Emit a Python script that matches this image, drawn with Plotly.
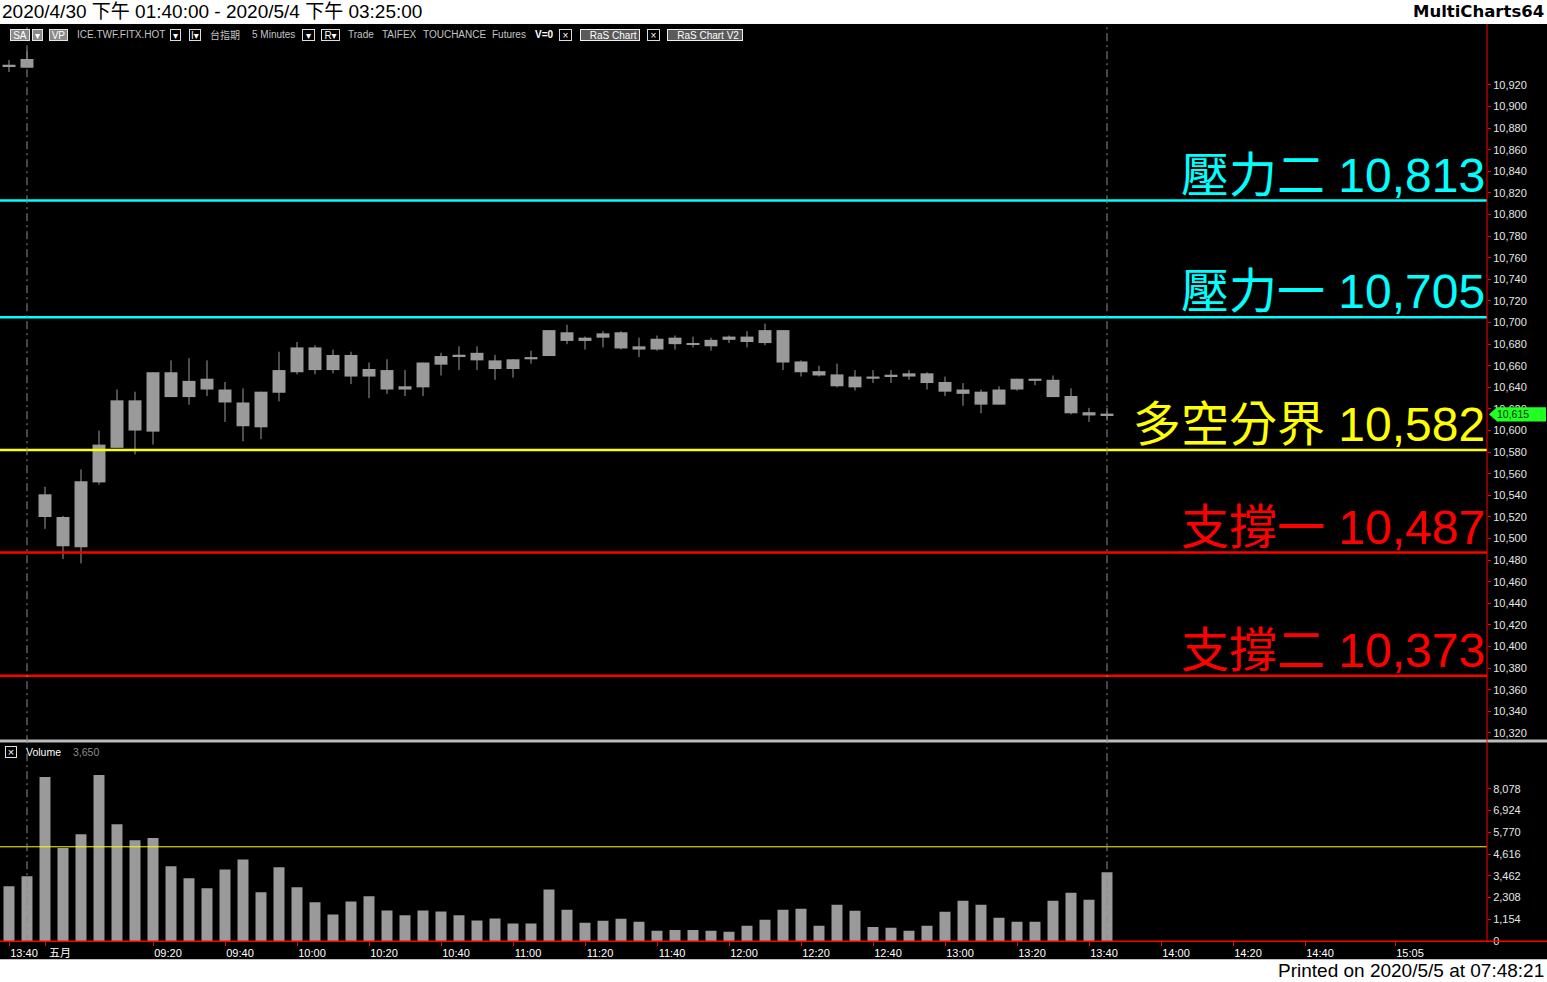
import plotly.graph_objects as go

W = 1547          # page width in px
FIG_H = 982       # figure height in px
S_Y = 0.9947      # vertical compression observed in the photographed page

# ---------------- data ----------------
header_text = "2020/4/30 下午 01:40:00 - 2020/5/4 下午 03:25:00"
brand_text = "MultiCharts64"
footer_text = "Printed on 2020/5/5 at 07:48:21"

bar_time = ["13:40", "13:45",
            "08:50", "08:55", "09:00", "09:05", "09:10", "09:15", "09:20", "09:25",
            "09:30", "09:35", "09:40", "09:45", "09:50", "09:55", "10:00", "10:05",
            "10:10", "10:15", "10:20", "10:25", "10:30", "10:35", "10:40", "10:45",
            "10:50", "10:55", "11:00", "11:05", "11:10", "11:15", "11:20", "11:25",
            "11:30", "11:35", "11:40", "11:45", "11:50", "11:55", "12:00", "12:05",
            "12:10", "12:15", "12:20", "12:25", "12:30", "12:35", "12:40", "12:45",
            "12:50", "12:55", "13:00", "13:05", "13:10", "13:15", "13:20", "13:25",
            "13:30", "13:35", "13:40", "13:45"]

opens = [10938, 10936,
         10541, 10520, 10492, 10552, 10584, 10628, 10599, 10654, 10631, 10648,
         10638, 10626, 10603, 10635, 10654, 10677, 10656, 10670, 10650, 10656,
         10638, 10640, 10661, 10669, 10672, 10665, 10657, 10666, 10669, 10691,
         10683, 10686, 10691, 10678, 10675, 10686, 10680, 10678, 10684, 10687,
         10681, 10693, 10664, 10655, 10652, 10640, 10650, 10651, 10650, 10653,
         10645, 10634, 10636, 10624, 10638, 10648, 10647, 10632, 10617, 10615]
highs = [10943, 10955,
         10548, 10521, 10564, 10600, 10638, 10636, 10654, 10665, 10667, 10665,
         10645, 10639, 10636, 10673, 10682, 10679, 10675, 10673, 10663, 10666,
         10656, 10663, 10672, 10678, 10678, 10670, 10666, 10674, 10693, 10698,
         10687, 10692, 10692, 10686, 10688, 10688, 10687, 10686, 10688, 10692,
         10699, 10693, 10665, 10660, 10662, 10656, 10656, 10656, 10656, 10654,
         10650, 10644, 10638, 10641, 10648, 10648, 10651, 10639, 10621, 10621]
lows = [10932, 10936,
        10509, 10481, 10477, 10550, 10584, 10578, 10587, 10631, 10624, 10632,
        10608, 10590, 10592, 10627, 10652, 10652, 10653, 10643, 10630, 10634,
        10632, 10632, 10651, 10656, 10656, 10647, 10649, 10662, 10669, 10680,
        10675, 10677, 10675, 10668, 10674, 10675, 10677, 10674, 10681, 10677,
        10679, 10656, 10650, 10650, 10640, 10637, 10644, 10644, 10647, 10638,
        10632, 10623, 10616, 10624, 10637, 10642, 10631, 10615, 10608, 10609]
closes = [10938, 10944,
          10520, 10493, 10553, 10587, 10628, 10600, 10654, 10631, 10646, 10638,
          10626, 10604, 10636, 10656, 10677, 10656, 10670, 10650, 10657, 10638,
          10641, 10663, 10669, 10670, 10665, 10657, 10666, 10668, 10693, 10683,
          10686, 10690, 10676, 10675, 10685, 10680, 10680, 10684, 10687, 10682,
          10693, 10663, 10654, 10651, 10641, 10650, 10648, 10651, 10653, 10644,
          10636, 10638, 10624, 10638, 10648, 10646, 10631, 10616, 10614, 10615]
volumes = [2910, 3440,
           8690, 4930, 5660, 8800, 6190, 5340, 5460, 3970, 3340, 2800,
           3800, 4330, 2590, 3920, 2860, 2060, 1420, 2110, 2380, 1630,
           1370, 1630, 1580, 1370, 1100, 1210, 940, 940, 2740, 1670,
           980, 1080, 1190, 1030, 550, 600, 600, 550, 500, 820,
           1140, 1670, 1720, 820, 1930, 1610, 760, 710, 550, 820,
           1560, 2150, 1930, 1240, 1030, 1030, 2150, 2570, 2200, 3650]

tick_pos = [0, 2, 8, 12, 16, 20, 24, 28, 32, 36, 40, 44, 48, 52, 56, 60, 64, 68, 72, 77]
tick_text = ["13:40", "五月", "09:20", "09:40", "10:00", "10:20", "10:40", "11:00",
             "11:20", "11:40", "12:00", "12:20", "12:40", "13:00", "13:20", "13:40",
             "14:00", "14:20", "14:40", "15:05"]

price_ticks = [10320, 10340, 10360, 10380, 10400, 10420, 10440, 10460, 10480, 10500,
               10520, 10540, 10560, 10580, 10600, 10620, 10640, 10660, 10680, 10700,
               10720, 10740, 10760, 10780, 10800, 10820, 10840, 10860, 10880, 10900, 10920]
vol_ticks = [0, 1154, 2308, 3462, 4616, 5770, 6924, 8078]

level_names = ["壓力二", "壓力一", "多空分界", "支撐一", "支撐二"]
level_values = [10813, 10705, 10582, 10487, 10373]
level_colors = ["#00FFFF", "#00FFFF", "#FFFF00", "#FF0000", "#FF0000"]

vol_ref = 5000

toolbar_text = ["SA", "▾", "VP", "ICE.TWF.FITX.HOT", "▾", "I▾", "台指期", "5 Minutes",
                "▾", "R▾", "Trade", "TAIFEX", "TOUCHANCE", "Futures", "V=0", "×",
                "_RaS Chart", "×", "_RaS Chart V2"]

# ---------------- layout helpers (pixel placement) ----------------
toolbar_left = [10, 32, 49, 75, 170, 189, 208, 250, 302, 321, 346, 380, 421, 490, 533,
                559, 580, 647, 667]
toolbar_right = [30, 43, 68, None, 181, 201, None, None, 315, 340, None, None, None, None,
                 None, 572, 640, 660, 743]
toolbar_kind = ["btn", "btn", "btn", "txt", "dd", "dd", "txt", "txt", "dd", "dd", "txt",
                "txt", "txt", "txt", "bold", "dd", "ras", "dd", "ras"]


def px(x):
    return x / W


def py(y):
    return 1 - (y / S_Y) / FIG_H


PLOT_R = 1487
X_RANGE = [-0.5, (PLOT_R - 9) / 18.0]
P_RANGE = [10314.07, 10976.43]
V_RANGE = [0, 10580]
GRAY = "#9a9a9a"
FONT = "Liberation Sans, Arial, Noto Sans CJK TC, DejaVu Sans"

n = len(opens)
idx = list(range(n))

body_base, body_h = [], []
for o, c in zip(opens, closes):
    lo, hi = min(o, c), max(o, c)
    if hi - lo < 1.4:
        mid = (o + c) / 2.0
        lo, hi = mid - 0.7, mid + 0.7
    body_base.append(lo)
    body_h.append(hi - lo)

wick_x, wick_y = [], []
for i, (hh, ll) in enumerate(zip(highs, lows)):
    wick_x += [i, i, None]
    wick_y += [ll, hh, None]

fig = go.Figure()
fig.add_trace(go.Scatter(x=wick_x, y=wick_y, mode="lines",
                         line=dict(color=GRAY, width=1),
                         xaxis="x", yaxis="y", hoverinfo="skip", showlegend=False))
fig.add_trace(go.Bar(x=idx, y=body_h, base=body_base, width=0.72,
                     marker=dict(color=GRAY, line=dict(width=0)),
                     xaxis="x", yaxis="y", hoverinfo="skip", showlegend=False))
fig.add_trace(go.Bar(x=idx, y=volumes, width=0.61,
                     marker=dict(color=GRAY, line=dict(width=0)),
                     xaxis="x2", yaxis="y2", hoverinfo="skip", showlegend=False))

shapes = []
shapes.append(dict(type="rect", xref="paper", yref="paper", x0=0, x1=1,
                   y0=py(960), y1=py(24), fillcolor="black", line=dict(width=0),
                   layer="below"))
shapes.append(dict(type="rect", xref="paper", yref="paper", x0=0, x1=1,
                   y0=py(743), y1=py(740), fillcolor="#bcbcbc", line=dict(width=0),
                   layer="above"))
for v, col in zip(level_values, level_colors):
    shapes.append(dict(type="line", xref="paper", yref="y", x0=0, x1=px(PLOT_R),
                       y0=v, y1=v, line=dict(color=col, width=2.5), layer="above"))
shapes.append(dict(type="line", xref="paper", yref="y2", x0=0, x1=px(PLOT_R),
                   y0=vol_ref, y1=vol_ref, line=dict(color="#FFFF00", width=1),
                   layer="above"))
for i, t in enumerate(bar_time):
    if t == "13:45":
        shapes.append(dict(type="line", xref="x", yref="paper", x0=i, x1=i,
                           y0=py(942), y1=py(24),
                           line=dict(color="#8c8c8c", width=1, dash="8px,4px,2px,4px"),
                           layer="above"))
shapes.append(dict(type="line", xref="paper", yref="paper", x0=px(PLOT_R), x1=px(PLOT_R),
                   y0=py(942), y1=py(24), line=dict(color="#FF0000", width=1), layer="above"))
shapes.append(dict(type="line", xref="paper", yref="paper", x0=0, x1=1,
                   y0=py(942), y1=py(942), line=dict(color="#FF0000", width=1.5), layer="above"))
last = closes[-1]
hh = 6.5
x_tip, x_s, x_e = px(1489), px(1497), px(1546)
path = (f"M {x_tip},{last} L {x_s},{last + hh} L {x_e},{last + hh} "
        f"L {x_e},{last - hh} L {x_s},{last - hh} Z")
shapes.append(dict(type="path", xref="paper", yref="y", path=path,
                   fillcolor="#22FF22", line=dict(width=0), layer="above"))

annotations = []
annotations.append(dict(text=header_text, x=0, y=py(12), xref="paper", yref="paper",
                        xanchor="left", yanchor="middle", showarrow=False,
                        font=dict(family=FONT, size=19, color="black")))
annotations.append(dict(text=brand_text, x=px(1546), y=py(12), xref="paper", yref="paper",
                        xanchor="right", yanchor="middle", showarrow=False,
                        font=dict(family="DejaVu Sans, Verdana", size=16.5, color="black",
                                  weight="bold")))
annotations.append(dict(text=footer_text, x=px(1546), y=py(971), xref="paper", yref="paper",
                        xanchor="right", yanchor="middle", showarrow=False,
                        font=dict(family=FONT, size=19, color="black")))
for name, v, col in zip(level_names, level_values, level_colors):
    annotations.append(dict(text=f"{name} {v:,}", x=px(1487), y=v, xref="paper", yref="y",
                            xanchor="right", yanchor="bottom", yshift=-3, showarrow=False,
                            font=dict(family=FONT, size=48, color=col)))
annotations.append(dict(text=f"{last:,}", x=px(1495), y=last, xref="paper", yref="y",
                        xanchor="left", yanchor="middle", showarrow=False,
                        font=dict(family=FONT, size=10.5, color="#003300")))

for txt, left, right, kind in zip(toolbar_text, toolbar_left, toolbar_right, toolbar_kind):
    a = dict(text=txt, x=px(left), y=py(35), xref="paper", yref="paper",
             xanchor="left", yanchor="middle", showarrow=False,
             font=dict(family=FONT, size=10, color="#c4c4c4"))
    if right is not None:
        a.update(width=right - left - 2, height=10, align="center",
                 borderwidth=1, borderpad=0)
        a["font"]["color"] = "white"
        if kind == "btn":
            a.update(bgcolor="#8a8a8a", bordercolor="#e6e6e6")
        elif kind == "dd":
            a.update(bgcolor="#000000", bordercolor="#dcdcdc")
        else:
            a.update(bgcolor="#5a5a5a", bordercolor="#f0f0f0")
    elif kind == "bold":
        a["font"]["color"] = "white"
        a["font"]["weight"] = "bold"
    annotations.append(a)

annotations.append(dict(text="×", x=px(5), y=py(753), xref="paper", yref="paper",
                        xanchor="left", yanchor="middle", showarrow=False,
                        width=10, height=10, align="center",
                        bgcolor="black", bordercolor="#e0e0e0", borderwidth=1, borderpad=0,
                        font=dict(family=FONT, size=11, color="white")))
annotations.append(dict(text="Volume", x=px(24), y=py(753), xref="paper", yref="paper",
                        xanchor="left", yanchor="middle", showarrow=False,
                        font=dict(family=FONT, size=10.5, color="white")))
annotations.append(dict(text=f"{volumes[-1]:,}", x=px(71), y=py(753), xref="paper", yref="paper",
                        xanchor="left", yanchor="middle", showarrow=False,
                        font=dict(family=FONT, size=10.5, color="#8c8c8c")))

axis_common = dict(showgrid=False, zeroline=False, showline=False)

fig.update_layout(
    width=W, height=FIG_H, margin=dict(l=0, r=0, t=0, b=0),
    paper_bgcolor="white", plot_bgcolor="black",
    showlegend=False, hovermode=False, barmode="overlay",
    xaxis=dict(domain=[0, px(PLOT_R)], range=X_RANGE, anchor="y",
               showticklabels=False, ticks="", **axis_common),
    xaxis2=dict(domain=[0, px(PLOT_R)], range=X_RANGE, anchor="y2", matches="x",
                tickmode="array", tickvals=tick_pos, ticktext=tick_text,
                ticks="outside", ticklen=4, tickcolor="#FF0000", tickwidth=1,
                ticklabelshift=15, ticklabelstandoff=-2,
                tickfont=dict(family=FONT, size=11, color="white"), **axis_common),
    yaxis=dict(domain=[py(740), py(24)], range=P_RANGE, anchor="x", side="right",
               tickmode="array", tickvals=price_ticks,
               ticktext=[f"{v:,}" for v in price_ticks],
               ticks="outside", ticklen=3, tickcolor="#FF0000", tickwidth=1,
               tickfont=dict(family=FONT, size=11, color="#e6e6e6"), **axis_common),
    yaxis2=dict(domain=[py(942), py(742)], range=V_RANGE, anchor="x2", side="right",
                tickmode="array", tickvals=vol_ticks,
                ticktext=[f"{v:,}" for v in vol_ticks],
                ticks="outside", ticklen=3, tickcolor="#FF0000", tickwidth=1,
                tickfont=dict(family=FONT, size=11, color="#e6e6e6"), **axis_common),
    shapes=shapes, annotations=annotations,
)

fig.write_html("out.html", config={"displayModeBar": False},
               post_script="document.body.style.margin='0';document.body.style.overflow='hidden';")
